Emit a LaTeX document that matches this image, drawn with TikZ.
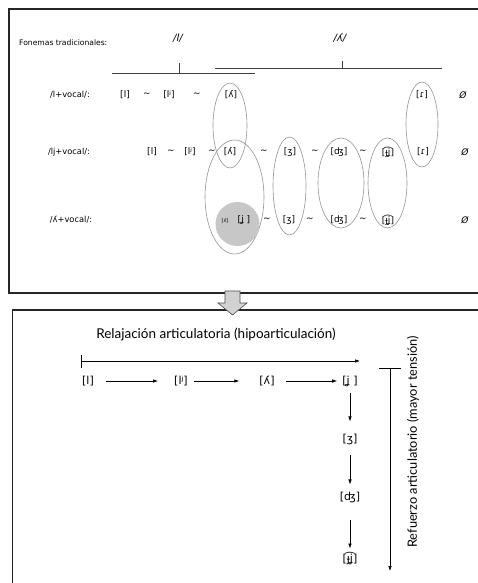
\documentclass[tikz,border=0pt]{standalone}
\usepackage{fontspec}
\setmainfont{DejaVu Sans}
\newfontfamily\gill{Lato}
\usetikzlibrary{arrows.meta}
\begin{document}
\begin{tikzpicture}[x=1pt,y=-1pt,
  box/.style={line width=1.3pt, draw=black!85},
  ell/.style={draw=black!42, line width=0.6pt},
  ipa/.style={inner sep=1pt, font=\fontsize{9}{10}\selectfont},
  tl/.style={inner sep=0pt, font=\fontsize{8.3}{10}\selectfont},
  ph/.style={inner sep=1pt, font=\fontsize{11}{13}\selectfont},
  conn/.style={-{Latex[length=5pt,width=3.5pt]}, line width=0.6pt},
  brk/.style={line width=0.6pt, draw=black!75},
  blockarrow/.style={fill=black!18, draw=black!70, line width=0.6pt},
]
\useasboundingbox (0,0) rectangle (478,583);
\fill[white] (0,0) rectangle (478,583);

% frames
\draw[box] (478,9) -- (9,9) -- (9,293) -- (478,293);
\draw[box] (478,310) -- (12.5,310) -- (12.5,583);

% block arrow between panels
\draw[blockarrow] (225,291) -- (240,291) -- (240,303) -- (247,303) -- (232.5,315)
  -- (218,303) -- (225,303) -- cycle;

% heading
\node[tl, anchor=west, font=\fontsize{7.6}{9}\selectfont] (fon) at (19,43) {Fonemas tradicionales:};
\node[ipa, font=\fontsize{10}{12}\selectfont\itshape] (phl) at (178,38) {/l/};
\node[ipa, font=\fontsize{10}{12}\selectfont\itshape] (phll) at (340,38) {/ʎ/};

% brackets
\coordinate (bl1) at (112,73); \coordinate (bl2) at (255,73);
\coordinate (blt) at (179,63); \coordinate (blb) at (179,73);
\coordinate (br1) at (215,68); \coordinate (br2) at (442,68);
\coordinate (brt) at (342,61); \coordinate (brb) at (342,68);
\draw[brk] (bl1) -- (bl2);
\draw[brk] (blt) -- (blb);
\draw[brk] (br1) -- (br2);
\draw[brk] (brt) -- (brb);

% ellipses
\draw[ell] (230,125.5) ellipse [x radius=17pt, y radius=42.5pt];
\draw[ell] (234.5,197) ellipse [x radius=29.5pt, y radius=57pt];
\draw[ell] (289.5,186) ellipse [x radius=16.5pt, y radius=49pt];
\draw[ell] (341,183) ellipse [x radius=23pt, y radius=45pt];
\draw[ell] (387.5,183) ellipse [x radius=19.5pt, y radius=45pt];
\draw[ell] (422,124.5) ellipse [x radius=16pt, y radius=42.5pt];
\fill[black!22] (237.5,224) circle [radius=22pt];

% row labels
\node[tl] (row1) at (70,95) {/l+vocal/:};
\node[tl] (row2) at (69,152) {/lj+vocal/:};
\node[tl] (row3) at (71,220) {/ʎ+vocal/:};

% row 1
\node[ipa] (a1) at (125,95) {[l]};
\node[ipa] (at1) at (147,95) {∼};
\node[ipa] (a2) at (169,95) {[lʲ]};
\node[ipa] (at2) at (197,95) {∼};
\node[ipa] (a3) at (231,95) {[ʎ]};
\node[ipa] (a4) at (422,95) {[ɾ]};
\node[ipa] (a5) at (463,95) {\itshape Ø};

% row 2
\node[ipa] (c1) at (152,152) {[l]};
\node[ipa] (ct1) at (171,152) {∼};
\node[ipa] (c2) at (190,152) {[lʲ]};
\node[ipa] (ct2) at (212,152) {∼};
\node[ipa] (c3) at (230,152) {[ʎ]};
\node[ipa] (ct3) at (264,152) {∼};
\node[ipa] (c4) at (290,152) {[ʒ]};
\node[ipa] (ct4) at (315,152) {∼};
\node[ipa] (c5) at (339,152) {[ʤ]};
\node[ipa] (ct5) at (363,152) {∼};
\node[ipa] (c6) at (388,152) {[ɟ͡ʝ]};
\node[ipa] (c7) at (423,152) {[ɾ]};
\node[ipa] (c8) at (465,152) {\itshape Ø};

% row 3
\node[ipa, font=\fontsize{5}{6}\selectfont] (d0) at (225,221) {[ʎ]};
\node[ipa] (d1) at (244,220) {[ʝ ]};
\node[ipa] (dt1) at (267,220) {∼};
\node[ipa] (d2) at (289,220) {[ʒ]};
\node[ipa] (dt2) at (310,220) {∼};
\node[ipa] (d3) at (339,220) {[ʤ]};
\node[ipa] (dt3) at (363,220) {∼};
\node[ipa] (d4) at (388,220) {[ɟ͡ʝ]};
\node[ipa] (d5) at (465,220) {\itshape Ø};

% lower panel
\node[font=\gill\fontsize{13.5}{15}\selectfont, inner sep=0pt] (relax) at (216,334)
  {Relajación articulatoria (hipoarticulación)};
\coordinate (hs) at (81,361);
\coordinate (he) at (360,361);
\draw[line width=0.6pt, {Bar[width=13pt]}-{Latex[length=5pt,width=3.5pt]}] (hs) -- (he);

\node[ph] (b1) at (88,381) {[l]};
\node[ph] (b2) at (181,381) {[lʲ]};
\node[ph] (b3) at (267,381) {[ʎ]};
\node[ph] (b4) at (350,381) {[ʝ ]};
\node[ph] (b5) at (350,439) {[ʒ]};
\node[ph] (b6) at (350,497) {[ʤ]};
\node[ph] (b7) at (350,559) {[ɟ͡ʝ]};

\draw[conn, shorten <=11pt, shorten >=15pt] (b1.east) -- (b2.west);
\draw[conn, shorten <=5pt, shorten >=19pt] (b2.east) -- (b3.west);
\draw[conn, shorten <=10pt, shorten >=4pt] (b3.east) -- (b4.west);
\draw[conn, shorten <=5pt, shorten >=11pt] (b4.south) -- (b5.north);
\draw[conn, shorten <=9pt, shorten >=6pt] (b5.south) -- (b6.north);
\draw[conn, shorten <=16pt, shorten >=3pt] (b6.south) -- (b7.north);

\coordinate (vs) at (390,368);
\coordinate (ve) at (390,571);
\draw[line width=0.6pt, {Bar[width=22pt]}-{Latex[length=5pt,width=3.5pt]}] (vs) -- (ve);
\node[font=\gill\fontsize{12.8}{14}\selectfont, inner sep=0pt, rotate=90] (refz) at (413,442)
  {Refuerzo articulatorio (mayor tensión)};
\end{tikzpicture}
\end{document}
